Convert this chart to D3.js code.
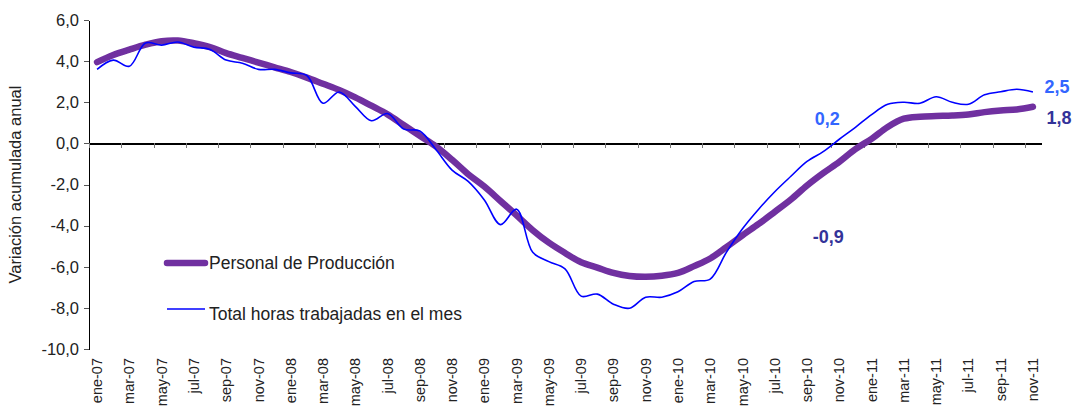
<!DOCTYPE html>
<html>
<head>
<meta charset="utf-8">
<script src="https://cdn.jsdelivr.net/npm/d3@7"></script>
<style>
  body { margin: 0; background: #fff; }
  svg { display: block; font-family: "Liberation Sans", Arial, sans-serif; }
  .axis path, .axis line { shape-rendering: crispEdges; }
</style>
</head>
<body>
<div id="chart"></div>
<script>
// meses del eje: ene-07 .. nov-11
const monthNames = ["ene", "feb", "mar", "abr", "may", "jun", "jul", "ago", "sep", "oct", "nov", "dic"];
const years = ["07", "08", "09", "10", "11"];
const months = [];
years.forEach(y => monthNames.forEach(m => months.push(m + "-" + y)));
months.splice(months.indexOf("nov-11") + 1);

// Personal de Producción (variación acumulada anual)
const personal = [
  3.95, 4.30, 4.56, 4.80, 4.97, 5.00, 4.87, 4.68, 4.39, 4.16, 3.93, 3.70,
  3.47, 3.20, 2.90, 2.60, 2.24, 1.83, 1.41, 0.89, 0.37, -0.15, -0.80, -1.50,
  -2.10, -2.80, -3.50, -4.22, -4.83, -5.33, -5.78, -6.04, -6.30, -6.45, -6.49, -6.44,
  -6.30, -5.97, -5.60, -5.05, -4.47, -3.92, -3.33, -2.73, -2.05, -1.45, -0.90, -0.28,
  0.22, 0.80, 1.20, 1.30, 1.33, 1.35, 1.40, 1.52, 1.60, 1.65, 1.78
];

// Total horas trabajadas en el mes
const horas = [
  3.60, 4.05, 3.75, 4.88, 4.78, 4.93, 4.68, 4.57, 4.05, 3.90, 3.60, 3.60,
  3.43, 3.30, 1.95, 2.50, 1.80, 1.10, 1.45, 0.70, 0.60, -0.30, -1.30, -1.85,
  -2.75, -3.95, -3.20, -5.30, -5.75, -6.10, -7.43, -7.33, -7.82, -8.02, -7.48, -7.48,
  -7.22, -6.72, -6.60, -5.30, -4.15, -3.20, -2.35, -1.60, -0.88, -0.40, 0.20, 0.78,
  1.40, 1.90, 2.00, 1.95, 2.27, 2.00, 1.90, 2.36, 2.51, 2.63, 2.50
];

const yTicks = [-10, -8, -6, -4, -2, 0, 2, 4, 6];

const seriesNames = ["Personal de Producción", "Total horas trabajadas en el mes"];
const seriesColors = ["#7030a0", "#0000ff"];
const labelColors = ["#333399", "#3366ff"];

const width = 1074;
const height = 407;
const plot = {left: 89, right: 1041, top: 20, bottom: 349};

const fmt = v => v.toFixed(1).replace(".", ",");

const svg = d3.select("#chart").append("svg")
  .attr("width", width)
  .attr("height", height);

const x = d3.scaleBand()
  .domain(months)
  .range([plot.left, plot.right]);
const xc = m => x(m) + x.bandwidth() / 2;

const xIndex = d3.scaleLinear()
  .domain([0, months.length])
  .range([plot.left, plot.right]);

const y = d3.scaleLinear()
  .domain([-10, 6])
  .range([plot.bottom, plot.top]);



// EJE Y

const yAxis = svg.append("g")
  .attr("class", "axis")
  .attr("transform", `translate(${plot.left},0)`)
  .call(d3.axisLeft(y).tickValues(yTicks).tickFormat(fmt).tickSize(5).tickPadding(5).tickSizeOuter(0));
yAxis.select(".domain").attr("stroke", "#000").attr("stroke-width", 1.3);
yAxis.selectAll(".tick line").attr("stroke", "#555");
yAxis.selectAll("text")
  .attr("font-size", 16.5)
  .attr("fill", "#222");

svg.append("text")
  .attr("transform", `translate(21,${(plot.top + plot.bottom) / 2}) rotate(-90)`)
  .attr("text-anchor", "middle")
  .attr("font-size", 16.5)
  .attr("fill", "#222")
  .text("Variación acumulada anual");



// EJE X (en el cero)

const xAxis = svg.append("g")
  .attr("class", "axis")
  .attr("transform", `translate(0,${y(0)})`)
  .call(d3.axisBottom(xIndex)
    .tickValues(d3.range(0, months.length, 2))
    .tickSize(5)
    .tickFormat("")
    .tickSizeOuter(0));
xAxis.select(".domain").attr("stroke", "#000").attr("stroke-width", 1.3);
xAxis.selectAll(".tick line").attr("stroke", "#777");

svg.append("g")
  .selectAll("text")
  .data(months.filter((m, i) => i % 2 === 0))
  .join("text")
  .attr("transform", d => `translate(${xc(d)},358) rotate(-90)`)
  .attr("text-anchor", "end")
  .attr("dy", "0.35em")
  .attr("font-size", 14.5)
  .attr("fill", "#222")
  .text(d => d);



// LINEAS

const line = d3.line()
  .x((d, i) => xc(months[i]))
  .y(d => y(d))
  .curve(d3.curveCatmullRom.alpha(0.5));

svg.append("path")
  .datum(personal)
  .attr("fill", "none")
  .attr("stroke", seriesColors[0])
  .attr("stroke-width", 6.5)
  .attr("stroke-linecap", "round")
  .attr("stroke-linejoin", "round")
  .attr("d", line);

svg.append("path")
  .datum(horas)
  .attr("fill", "none")
  .attr("stroke", seriesColors[1])
  .attr("stroke-width", 1.6)
  .attr("d", line);



// ETIQUETAS DE DATOS

const last = months.length - 1;
const iNov10 = months.indexOf("nov-10");
const dataLabels = [
  {i: last,   v: horas[last],      color: labelColors[1], dx: 24,  dy: -5},
  {i: last,   v: personal[last],   color: labelColors[0], dx: 26,  dy: 11},
  {i: iNov10, v: horas[iNov10],    color: labelColors[1], dx: -12, dy: -21},
  {i: iNov10, v: personal[iNov10], color: labelColors[0], dx: -11, dy: 75}
];

svg.append("g")
  .selectAll("text")
  .data(dataLabels)
  .join("text")
  .attr("x", d => xc(months[d.i]) + d.dx)
  .attr("y", d => y(d.v) + d.dy)
  .attr("text-anchor", "middle")
  .attr("dy", "0.35em")
  .attr("font-size", 18)
  .attr("font-weight", "bold")
  .attr("fill", d => d.color)
  .text(d => fmt(d.v));



// LEYENDA

const legend = svg.append("g");
const legendRows = [
  {name: seriesNames[0], color: seriesColors[0], w: 6.5, ly: 263, ty: 269},
  {name: seriesNames[1], color: seriesColors[1], w: 1.6, ly: 309, ty: 320}
];

legend.selectAll("line")
  .data(legendRows)
  .join("line")
  .attr("x1", 167)
  .attr("x2", 205)
  .attr("y1", d => d.ly)
  .attr("y2", d => d.ly)
  .attr("stroke", d => d.color)
  .attr("stroke-width", d => d.w)
  .attr("stroke-linecap", (d, i) => i === 0 ? "round" : "butt");

legend.selectAll("text")
  .data(legendRows)
  .join("text")
  .attr("x", 209)
  .attr("y", d => d.ty)
  .attr("font-size", 17.5)
  .attr("fill", "#222")
  .text(d => d.name);
</script>
</body>
</html>
